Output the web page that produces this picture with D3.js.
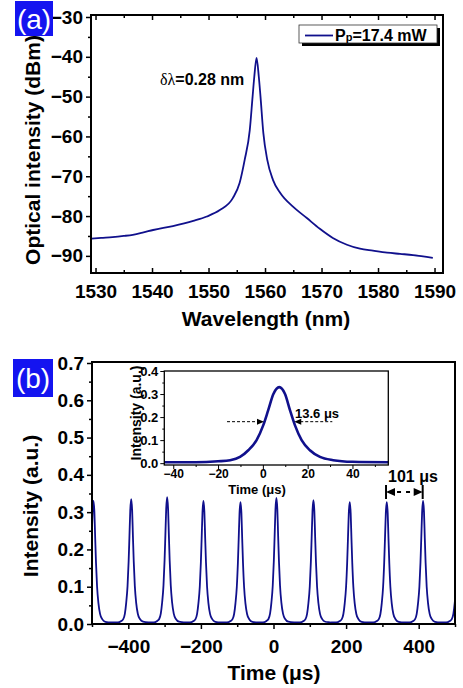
<!DOCTYPE html>
<html>
<head>
<meta charset="utf-8">
<script src="https://cdn.jsdelivr.net/npm/d3@7"></script>
<style>
body { margin: 0; background: #fff; }
svg { display: block; }
text { font-family: "Liberation Sans", Arial, sans-serif; }
</style>
</head>
<body>
<svg id="chart"></svg>
<script>
// (a) laser output spectrum
const wavelength = [1529.2, 1531, 1533, 1535, 1536.6, 1538.5, 1540.2, 1543.7, 1547.3, 1549.7, 1552.0, 1554.3,
    1555.5, 1556.4, 1557.3, 1557.8, 1558.1, 1558.5, 1558.9, 1559.2, 1559.7, 1560.4, 1561.4, 1562.7,
    1565.0, 1567.4, 1569.7, 1572.0, 1574.5, 1576.8, 1579.1, 1581.6, 1583.9, 1586.2, 1589.7];
const powerDbm = [-85.7, -85.5, -85.3, -85.0, -84.7, -84.1, -83.5, -82.5, -81.2, -80.1, -78.5, -75.5,
    -71.7, -65.9, -58.4, -50.0, -45.0, -40.3, -45.0, -50.0, -59.1, -65.9, -70.9, -74.2,
    -77.7, -80.5, -83.2, -85.5, -87.2, -88.2, -88.7, -89.2, -89.5, -89.8, -90.5];
const wlTicks = [1530, 1540, 1550, 1560, 1570, 1580, 1590];
const wlMinor = [1535, 1545, 1555, 1565, 1575, 1585];
const dbmTicks = [-30, -40, -50, -60, -70, -80, -90];
const dbmMinor = [-35, -45, -55, -65, -75, -85];

// (b) pulse train: centre and peak of each pulse
const pulseCentre = [-496, -392, -293, -193, -91, 8, 110, 210, 312, 412, 513];
const pulsePeak = [0.33, 0.335, 0.34, 0.33, 0.327, 0.338, 0.332, 0.327, 0.327, 0.33, 0.33];
const timeTicks = [-400, -200, 0, 200, 400];
const timeMinor = [-500, -300, -100, 100, 300, 500];
const intTicks = [0.0, 0.1, 0.2, 0.3, 0.4, 0.5, 0.6, 0.7];
const intMinor = [0.05, 0.15, 0.25, 0.35, 0.45, 0.55, 0.65];

// inset: single pulse
const insetTime = [-44, -30, -20, -14.6, -10.2, -6.5, -2.8, 0.2, 2.4, 4.7, 7.3, 9.9, 12.1, 14.3, 17.3, 21, 25.5, 31.4, 40, 56];
const insetLevel = [0.004, 0.004, 0.008, 0.013, 0.027, 0.056, 0.10, 0.165, 0.23, 0.30, 0.33, 0.30, 0.23, 0.165, 0.10, 0.056, 0.027, 0.013, 0.006, 0.004];
const insetPeakTime = 7.3, insetPeakLevel = 0.33;
const insetXTicks = [-40, -20, 0, 20, 40];
const insetXMinor = [-30, -10, 10, 30, 50];
const insetYTicks = [0.0, 0.1, 0.2, 0.3, 0.4];
const insetYMinor = [0.05, 0.15, 0.25, 0.35];

const W = 463, H = 688;
const lineColor = '#10108c';
const tagColor = '#1414f0';

const svg = d3.select('#chart').attr('width', W).attr('height', H);

function styleTicks(g, size, weight) {
    g.select('.domain').remove();
    g.selectAll('line').attr('stroke', '#000').attr('stroke-width', 1.5);
    g.selectAll('text')
        .attr('fill', '#000')
        .style('font-size', size + 'px')
        .style('font-weight', weight || 'bold')
        .style('font-family', '"Liberation Sans", Arial, sans-serif');
}

function tag(x, y, w, h, label, baseline) {
    svg.append('rect').attr('x', x).attr('y', y).attr('width', w).attr('height', h).attr('fill', tagColor);
    svg.append('text').attr('x', x + w / 2).attr('y', baseline)
        .attr('text-anchor', 'middle').attr('fill', '#fff')
        .style('font-size', '28px').text(label);
}

// ---------- panel (a) ----------
const xA = d3.scaleLinear().domain([1529.2, 1591.5]).range([91, 443]);
const yA = d3.scaleLinear().domain([-29.5, -94.3]).range([15, 273]);

const gA = svg.append('g');
gA.append('path')
    .datum(wavelength.map((d, i) => [d, powerDbm[i]]))
    .attr('d', d3.line().x(d => xA(d[0])).y(d => yA(d[1])).curve(d3.curveMonotoneX))
    .attr('fill', 'none').attr('stroke', lineColor).attr('stroke-width', 1.8);

gA.append('g').attr('transform', 'translate(91,0)')
    .call(d3.axisLeft(yA).tickValues(dbmTicks).tickSize(5).tickPadding(3).tickFormat(d3.format('d')))
    .call(g => styleTicks(g, 19));
gA.append('g').attr('transform', 'translate(91,0)')
    .call(d3.axisLeft(yA).tickValues(dbmMinor).tickSize(3).tickFormat(''))
    .call(g => styleTicks(g, 19));
gA.append('g').attr('transform', 'translate(0,273)')
    .call(d3.axisBottom(xA).tickValues(wlTicks).tickSize(-5).tickFormat(d3.format('d')))
    .call(g => styleTicks(g, 19))
    .call(g => g.selectAll('text').attr('y', 25).attr('dy', 0));
gA.append('g').attr('transform', 'translate(0,273)')
    .call(d3.axisBottom(xA).tickValues(wlMinor).tickSize(-3).tickFormat(''))
    .call(g => styleTicks(g, 19));
gA.append('g').attr('transform', 'translate(0,15)')
    .call(d3.axisTop(xA).tickValues(wlTicks).tickSize(-5).tickFormat(''))
    .call(g => styleTicks(g, 19));
gA.append('g').attr('transform', 'translate(0,15)')
    .call(d3.axisTop(xA).tickValues(wlMinor).tickSize(-3).tickFormat(''))
    .call(g => styleTicks(g, 19));
gA.append('rect').attr('x', 91).attr('y', 15).attr('width', 352).attr('height', 258)
    .attr('fill', 'none').attr('stroke', '#000').attr('stroke-width', 2);

gA.append('text').attr('x', 266).attr('y', 326).attr('text-anchor', 'middle')
    .style('font-size', '21px').style('font-weight', 'bold').text('Wavelength (nm)');
gA.append('text').attr('transform', 'translate(33,150) rotate(-90)').attr('dy', '0.35em')
    .attr('text-anchor', 'middle')
    .style('font-size', '21px').style('font-weight', 'bold').text('Optical intensity (dBm)');

// linewidth note
const note = gA.append('text').attr('x', 160).attr('y', 85).style('font-size', '16px');
note.append('tspan').style('font-family', '"Liberation Serif", "Times New Roman", serif').text('δλ');
note.append('tspan').style('font-weight', 'bold').text('=0.28 nm');

// legend
const leg = gA.append('g');
leg.append('rect').attr('x', 302).attr('y', 28).attr('width', 138).attr('height', 18).attr('fill', '#000');
leg.append('rect').attr('x', 299).attr('y', 25).attr('width', 138).attr('height', 18)
    .attr('fill', '#fff').attr('stroke', '#333').attr('stroke-width', 0.8);
leg.append('line').attr('x1', 305).attr('x2', 333).attr('y1', 35.5).attr('y2', 35.5)
    .attr('stroke', lineColor).attr('stroke-width', 1.8);
const legText = leg.append('text').attr('x', 335).attr('y', 41).style('font-size', '16px').style('font-weight', 'bold');
legText.append('tspan').text('P');
legText.append('tspan').style('font-size', '11px').text('p');
legText.append('tspan').text('=17.4 mW');

tag(15, 1, 38, 35, '(a)', 29);

// ---------- panel (b) ----------
const xB = d3.scaleLinear().domain([-500, 500]).range([92, 455]);
const yB = d3.scaleLinear().domain([0, 0.7]).range([624, 363]);

const train = [];
pulseCentre.forEach((c, i) => {
    insetTime.forEach((t, j) => {
        train.push([c + t - insetPeakTime, insetLevel[j] * pulsePeak[i] / insetPeakLevel]);
    });
});
train.sort((a, b) => a[0] - b[0]);

const gB = svg.append('g');
gB.append('clipPath').attr('id', 'clipB')
    .append('rect').attr('x', 92).attr('y', 362).attr('width', 363).attr('height', 263);
gB.append('path')
    .datum(train)
    .attr('clip-path', 'url(#clipB)')
    .attr('d', d3.line().x(d => xB(d[0])).y(d => yB(d[1])).curve(d3.curveMonotoneX))
    .attr('fill', 'none').attr('stroke', lineColor).attr('stroke-width', 1.8);

gB.append('g').attr('transform', 'translate(92,0)')
    .call(d3.axisLeft(yB).tickValues(intTicks).tickSize(5).tickPadding(3).tickFormat(d3.format('.1f')))
    .call(g => styleTicks(g, 19));
gB.append('g').attr('transform', 'translate(92,0)')
    .call(d3.axisLeft(yB).tickValues(intMinor).tickSize(3).tickFormat(''))
    .call(g => styleTicks(g, 19));
gB.append('g').attr('transform', 'translate(0,624)')
    .call(d3.axisBottom(xB).tickValues(timeTicks).tickSize(5).tickFormat(d3.format('d')))
    .call(g => styleTicks(g, 19))
    .call(g => g.selectAll('text').attr('y', 29).attr('dy', 0));
gB.append('g').attr('transform', 'translate(0,624)')
    .call(d3.axisBottom(xB).tickValues(timeMinor).tickSize(3).tickFormat(''))
    .call(g => styleTicks(g, 19));
gB.append('rect').attr('x', 92).attr('y', 362).attr('width', 363).attr('height', 262)
    .attr('fill', 'none').attr('stroke', '#000').attr('stroke-width', 2);

gB.append('text').attr('x', 274).attr('y', 680).attr('text-anchor', 'middle')
    .style('font-size', '21px').style('font-weight', 'bold').text('Time (μs)');
gB.append('text').attr('transform', 'translate(31,506) rotate(-90)').attr('dy', '0.35em')
    .attr('text-anchor', 'middle')
    .style('font-size', '21px').style('font-weight', 'bold').text('Intensity (a.u.)');

// period marker
const pA = xB(310), pB = xB(411), pY = 492;
gB.append('line').attr('x1', pA).attr('x2', pA).attr('y1', 485).attr('y2', 499).attr('stroke', '#000').attr('stroke-width', 2);
gB.append('line').attr('x1', pB).attr('x2', pB).attr('y1', 485).attr('y2', 499).attr('stroke', '#000').attr('stroke-width', 2);
gB.append('line').attr('x1', pA + 8).attr('x2', pB - 8).attr('y1', pY).attr('y2', pY)
    .attr('stroke', '#000').attr('stroke-width', 2).attr('stroke-dasharray', '4,5').attr('stroke-dashoffset', -3);
gB.append('path').attr('d', `M${pA},${pY} l9,-4 v8 z`).attr('fill', '#000');
gB.append('path').attr('d', `M${pB},${pY} l-9,-4 v8 z`).attr('fill', '#000');
gB.append('text').attr('x', 388).attr('y', 482).style('font-size', '16px').style('font-weight', 'bold').text('101 μs');

tag(13, 359, 40, 38, '(b)', 388);

// ---------- inset ----------
const xI = d3.scaleLinear().domain([-44, 56]).range([164.3, 388.3]);
const yI = d3.scaleLinear().domain([-0.008, 0.4]).range([465, 371]);
const gI = svg.append('g');
gI.append('rect').attr('x', 164.3).attr('y', 371).attr('width', 224).attr('height', 94).attr('fill', '#fff');
gI.append('path')
    .datum(insetTime.map((d, i) => [d, insetLevel[i]]))
    .attr('d', d3.line().x(d => xI(d[0])).y(d => yI(d[1])).curve(d3.curveMonotoneX))
    .attr('fill', 'none').attr('stroke', lineColor).attr('stroke-width', 2.6);

gI.append('g').attr('transform', 'translate(164.3,0)')
    .call(d3.axisLeft(yI).tickValues(insetYTicks).tickSize(4).tickPadding(2).tickFormat(d3.format('.1f')))
    .call(g => styleTicks(g, 13));
gI.append('g').attr('transform', 'translate(164.3,0)')
    .call(d3.axisLeft(yI).tickValues(insetYMinor).tickSize(2).tickFormat(''))
    .call(g => styleTicks(g, 13));
gI.append('g').attr('transform', 'translate(0,465)')
    .call(d3.axisBottom(xI).tickValues(insetXTicks).tickSize(4).tickPadding(2).tickFormat(d3.format('d')))
    .call(g => styleTicks(g, 12))
    .call(g => g.selectAll('text').attr('y', 13).attr('dy', 0));
gI.append('g').attr('transform', 'translate(0,465)')
    .call(d3.axisBottom(xI).tickValues(insetXMinor).tickSize(2).tickFormat(''))
    .call(g => styleTicks(g, 12));
gI.selectAll('line').attr('stroke-width', 1);
gI.append('rect').attr('x', 164.3).attr('y', 371).attr('width', 224).attr('height', 94)
    .attr('fill', 'none').attr('stroke', '#000').attr('stroke-width', 1.3);

gI.append('text').attr('x', 257).attr('y', 494).attr('text-anchor', 'middle')
    .style('font-size', '13px').style('font-weight', 'bold').text('Time (μs)');
gI.append('text').attr('transform', 'translate(136,413) rotate(-90)').attr('dy', '0.35em')
    .attr('text-anchor', 'middle')
    .style('font-size', '14px').style('font-weight', 'bold').text('Intensity (a.u.)');

// FWHM arrows
const hY = yI(0.18);
gI.append('line').attr('x1', xI(-16)).attr('x2', xI(0.5) - 6).attr('y1', hY).attr('y2', hY)
    .attr('stroke', '#000').attr('stroke-width', 1).attr('stroke-dasharray', '3,2');
gI.append('path').attr('d', `M${xI(0.5)},${hY} l-7,-3 v6 z`).attr('fill', '#000');
gI.append('line').attr('x1', xI(14) + 6).attr('x2', xI(31)).attr('y1', hY).attr('y2', hY)
    .attr('stroke', '#000').attr('stroke-width', 1).attr('stroke-dasharray', '3,2');
gI.append('path').attr('d', `M${xI(14)},${hY} l7,-3 v6 z`).attr('fill', '#000');
gI.append('text').attr('x', 295).attr('y', 418).style('font-size', '13px').style('font-weight', 'bold').text('13.6 μs');
</script>
</body>
</html>
